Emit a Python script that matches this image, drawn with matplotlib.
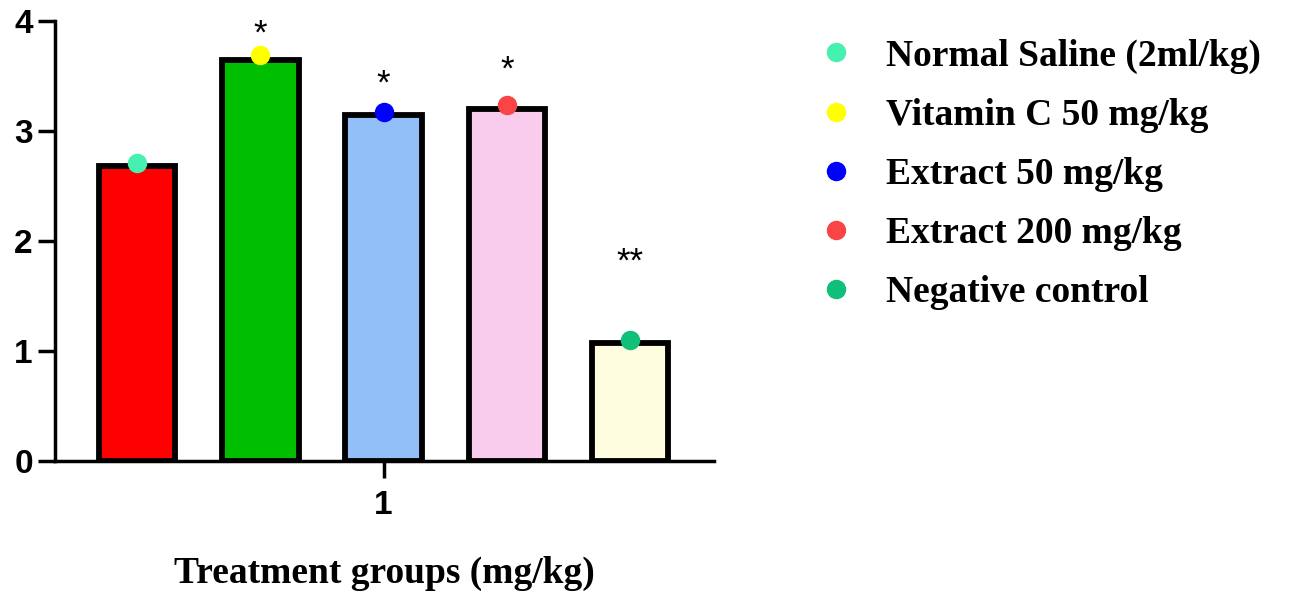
import matplotlib.pyplot as plt
import numpy as np
from matplotlib.lines import Line2D

groups = ["Normal Saline (2ml/kg)", "Vitamin C 50 mg/kg", "Extract 50 mg/kg",
          "Extract 200 mg/kg", "Negative control"]
bar_means = [2.68, 3.65, 3.145, 3.20, 1.07]
point_values = [2.71, 3.69, 3.17, 3.24, 1.10]
stars = ["", "*", "*", "*", "**"]
star_y = [0, 3.88, 3.43, 3.55, 1.81]

bar_colors = ["#ff0000", "#00bf00", "#92bff8", "#f9ccee", "#fffde0"]
dot_colors = ["#45f0b0", "#ffff00", "#0000ff", "#f94545", "#10c07a"]

fig = plt.figure(figsize=(12.89, 5.94), dpi=100)
ax = fig.add_axes([0.0427, 0.2239, 0.5112, 0.7407])

x = np.arange(len(groups))
ax.bar(x, bar_means, width=0.62, color=bar_colors, edgecolor="black",
       linewidth=4.2, zorder=2)
for i in range(len(groups)):
    ax.plot(x[i], point_values[i], "o", color=dot_colors[i], markersize=13,
            zorder=3)
    if stars[i]:
        ax.text(x[i], star_y[i], stars[i], ha="center", va="center",
                fontsize=25, family="Liberation Sans")

ax.set_xlim(-0.665, 4.68)
ax.set_ylim(0, 4)
ax.set_yticks([0, 1, 2, 3, 4])
ax.set_xticks([2])
ax.set_xticklabels(["1"])
for s in ["top", "right"]:
    ax.spines[s].set_visible(False)
for s in ["left", "bottom"]:
    ax.spines[s].set_linewidth(2.5)
ax.tick_params(axis="both", length=12, width=2.5, labelsize=24)
for lab in ax.get_xticklabels() + ax.get_yticklabels():
    lab.set_fontweight("bold")
    lab.set_family("Liberation Sans")
ax.tick_params(axis="x", pad=9)
ax.tick_params(axis="y", pad=4)

ax.set_xlabel("Treatment groups (mg/kg)", family="Liberation Serif",
              fontweight="bold", fontsize=27, labelpad=25)

handles = [Line2D([], [], marker="o", linestyle="none", color=c, markersize=13)
           for c in dot_colors]
leg = fig.legend(handles, groups, loc="upper left", bbox_to_anchor=(0.6078, 0.992),
                 frameon=False, handlelength=1.0, handletextpad=0.83,
                 labelspacing=0.64,
                 prop={"family": "Liberation Serif", "weight": "bold", "size": 27})

fig.savefig("out.png", dpi=100)
